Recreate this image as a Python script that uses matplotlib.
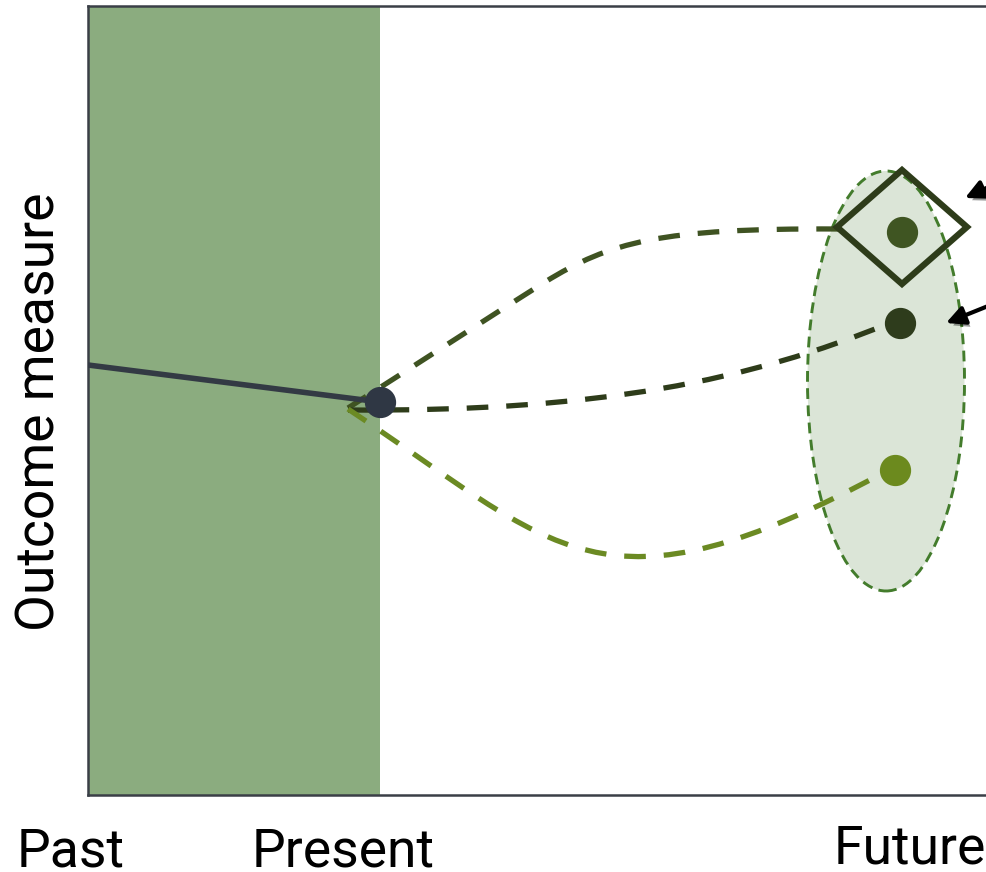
import matplotlib
matplotlib.use("Agg")
import matplotlib.pyplot as plt
import matplotlib.patheffects as pe
from matplotlib.path import Path
from matplotlib.patches import PathPatch, Ellipse, Polygon, Rectangle

plt.rcParams['font.family'] = ['Roboto', 'DejaVu Sans']

# --- data (arbitrary units, x = time, y = outcome) ---
x_max, y_max = 899, 789
present_x = 292

past_x = [0, 292]
past_y = [430, 393]
present_pt = (292, 393)

# projected outcomes: bezier control points (start, c1, c2, end[, c1, c2, end])
upper_ctrl = [(260, 387), (315, 422), (403, 479), (457, 513),
              (522, 553), (572, 567), (750, 566)]
middle_ctrl = [(260, 385), (512, 383), (662, 415), (802, 472)]
lower_ctrl = [(260, 386), (472, 245), (512, 170), (797, 323)]

outcome_x = [814, 812, 807]
outcome_y = [563, 472, 325]
outcome_colors = ["#3F5522", "#2E3C1C", "#6C8A1E"]
curve_colors = ["#3F5322", "#2E3C1A", "#6B8A23"]

# uncertainty region around future outcomes
ell_center, ell_w, ell_h = (798, 414), 157, 420
# highlighted best outcome
diamond_center, diamond_hw, diamond_hh = (814, 568), 65, 57

# arrows (tip, tail)
arrow_tips = [(877, 597), (858, 472)]
arrow_tails = [(920, 617), (915, 495)]

fig = plt.figure(figsize=(9.87, 8.72), dpi=100)
ax = fig.add_axes([88 / 987, 77 / 872, 899 / 987, 789 / 872])
ax.set_xlim(0, x_max)
ax.set_ylim(0, y_max)
ax.set_xticks([])
ax.set_yticks([])
for side in ["left", "bottom", "top"]:
    ax.spines[side].set_color("#3A3F47")
    ax.spines[side].set_linewidth(1.8)
ax.spines["right"].set_visible(False)

# past shading
ax.add_patch(Rectangle((0, 0), present_x, y_max, facecolor="#8BAC7F",
                       edgecolor="none", zorder=1))

# ellipse
ax.add_patch(Ellipse(ell_center, ell_w, ell_h, facecolor="#DBE5D7",
                     edgecolor="#437C2C", lw=2.1, linestyle=(0, (3.7, 2.2)), zorder=2))

# past trajectory
ax.plot(past_x, past_y, color="#333A44", lw=4, solid_capstyle="butt", zorder=4)

# future curves
for ctrl, col in zip([upper_ctrl, middle_ctrl, lower_ctrl], curve_colors):
    codes = [Path.MOVETO] + [Path.CURVE4] * (len(ctrl) - 1)
    ax.add_patch(PathPatch(Path(ctrl, codes), facecolor="none", edgecolor=col,
                           lw=3.8, linestyle=(0, (4.1, 3.4)), capstyle="butt", zorder=3))

# dots
ax.plot(*present_pt, "o", color="#2F3744", markersize=21.5, zorder=5)
for x, y, c in zip(outcome_x, outcome_y, outcome_colors):
    ax.plot(x, y, "o", color=c, markersize=21.5, zorder=5)

# diamond
cx, cy = diamond_center
ax.add_patch(Polygon([(cx, cy + diamond_hh), (cx + diamond_hw, cy),
                      (cx, cy - diamond_hh), (cx - diamond_hw, cy)], closed=True,
                     facecolor="none", edgecolor="#2E3C1A", lw=4.5,
                     joinstyle="miter", zorder=6))

# arrows
for tip, tail in zip(arrow_tips, arrow_tails):
    ax.annotate("", xy=tip, xytext=tail, annotation_clip=False,
                arrowprops=dict(arrowstyle="-|>", color="black", lw=3,
                                mutation_scale=28, shrinkA=0, shrinkB=0,
                                path_effects=[pe.SimplePatchShadow(offset=(2, -3), alpha=0.4),
                                              pe.Normal()]),
                zorder=7)

# labels
fig.text(40 / 987, 1 - 412 / 872, "Outcome measure", rotation=90, fontsize=38.5,
         ha="center", va="center")
fig.text(71 / 987, 1 - 866 / 872, "Past", fontsize=38.5, ha="center", va="baseline")
fig.text(343 / 987, 1 - 866 / 872, "Present", fontsize=38.5, ha="center", va="baseline")
fig.text(910 / 987, 1 - 863 / 872, "Future", fontsize=38.5, ha="center", va="baseline")

fig.savefig("out.png", dpi=100)
